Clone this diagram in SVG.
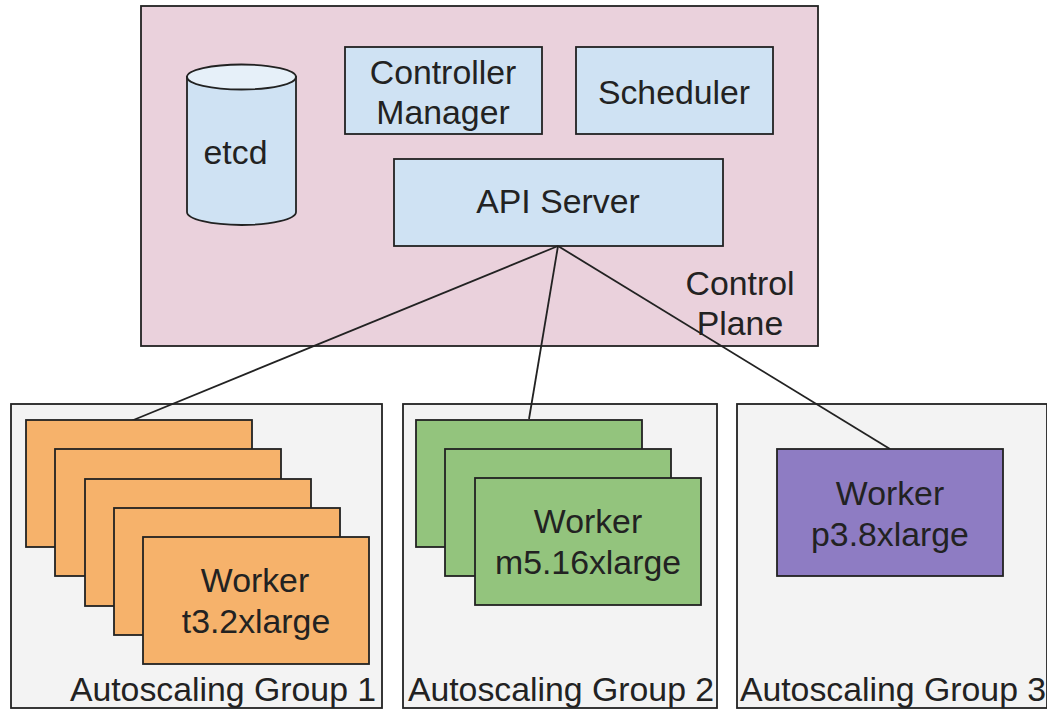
<svg xmlns="http://www.w3.org/2000/svg" width="1047" height="710" viewBox="0 0 1047 710">
<style>
text{font-family:"Liberation Sans",Arial,sans-serif;font-size:33.8px;fill:#222;text-anchor:middle}
.b{stroke:#222;stroke-width:1.8}
.blue{fill:#cfe2f3}.org{fill:#f6b26b}.grn{fill:#93c47d}.pur{fill:#8e7cc3}.grp{fill:#f3f3f3}
</style>
<rect width="1047" height="710" fill="#fff"/>
<g id="control-plane"><rect class="b" x="141" y="6" width="677" height="340" fill="#ead1dc"/><text x="740" y="295">Control</text><text x="740" y="335">Plane</text></g>
<g id="etcd"><path class="b blue" d="M187 77V212A54.500 13 0 0 0 296 212V77Z"/><ellipse class="b" cx="241.500" cy="77" rx="54.500" ry="12.500" fill="#e6f0f9"/><text x="235.500" y="164">etcd</text></g>
<g id="controller-manager"><rect class="b blue" x="345" y="47" width="197" height="87"/><text x="443" y="84">Controller</text><text x="443" y="124">Manager</text></g>
<g id="scheduler"><rect class="b blue" x="576" y="47" width="197" height="87"/><text x="674" y="104">Scheduler</text></g>
<g id="api-server"><rect class="b blue" x="394" y="159" width="329" height="87"/><text x="558" y="213">API Server</text></g>
<g id="group-1"><rect class="b grp" x="11" y="404" width="371" height="304"/><text x="223" y="701">Autoscaling Group 1</text></g>
<g id="group-2"><rect class="b grp" x="403" y="404" width="314" height="304"/><text x="561" y="701">Autoscaling Group 2</text></g>
<g id="group-3"><rect class="b grp" x="737" y="404" width="310" height="304"/><text x="893" y="701">Autoscaling Group 3</text></g>
<g id="connectors" fill="none" class="b"><path d="M558 246L131 421"/><path d="M558 246L529 419"/><path d="M558 246L890 449"/></g>
<g id="workers-1"><rect class="b org" x="26" y="420" width="226" height="127"/><rect class="b org" x="55" y="449" width="226" height="127"/><rect class="b org" x="85" y="479" width="226" height="127"/><rect class="b org" x="114" y="508" width="226" height="127"/><rect class="b org" x="143" y="537" width="226" height="127"/><text x="255" y="592">Worker</text><text x="256" y="633">t3.2xlarge</text></g>
<g id="workers-2"><rect class="b grn" x="416" y="420" width="226" height="127"/><rect class="b grn" x="445" y="449" width="226" height="127"/><rect class="b grn" x="475" y="478" width="226" height="127"/><text x="588" y="533">Worker</text><text x="588" y="574">m5.16xlarge</text></g>
<g id="worker-3"><rect class="b pur" x="777" y="449" width="226" height="127"/><text x="890" y="505">Worker</text><text x="890" y="546">p3.8xlarge</text></g>
</svg>
